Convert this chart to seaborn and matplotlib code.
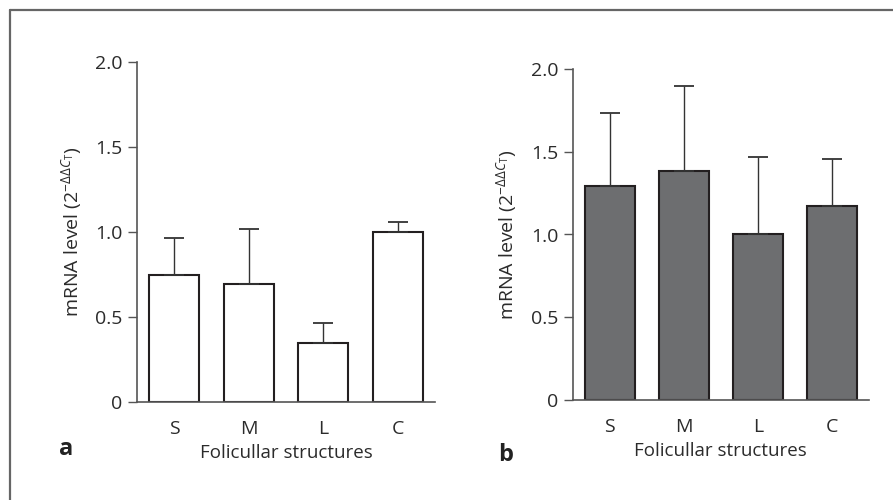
import numpy as np
import pandas as pd
import matplotlib
matplotlib.use('Agg')
from matplotlib import pyplot as plt
from matplotlib.lines import Line2D
import seaborn as sns

# data
structures = ['S', 'M', 'L', 'C']
level_a = [0.745, 0.696, 0.349, 1.0]
err_a = [0.222, 0.322, 0.114, 0.057]
level_b = [1.295, 1.384, 1.0, 1.174]
err_b = [0.441, 0.511, 0.47, 0.284]
yticks = [0, 0.5, 1.0, 1.5, 2.0]
yticklabels = ['0', '0.5', '1.0', '1.5', '2.0']

sns.set_style('ticks')
plt.rcParams['font.family'] = ['Open Sans', 'DejaVu Sans']
plt.rcParams['mathtext.fontset'] = 'custom'
plt.rcParams['mathtext.rm'] = 'Open Sans'
plt.rcParams['mathtext.it'] = 'Open Sans:italic'
txt = '#2b2b2b'

fig = plt.figure(figsize=(8.93, 5), dpi=100)
ax_a = fig.add_axes([0.1534, 0.196, 0.3337, 0.68])
ax_b = fig.add_axes([0.6413, 0.2, 0.3318, 0.662])

panels = [(ax_a, level_a, err_a, 'white'),
          (ax_b, level_b, err_b, '#6d6e70')]

for ax, vals, errs, col in panels:
    df = pd.DataFrame({'structure': structures, 'level': vals})
    sns.barplot(data=df, x='structure', y='level', ax=ax, color=col,
                width=0.67, edgecolor='#231f20', linewidth=1.5,
                saturation=1, errorbar=None)
    # one-sided (upper) error bars
    ax.errorbar(np.arange(len(vals)), vals, yerr=[np.zeros(len(vals)), errs],
                fmt='none', ecolor='#333333', elinewidth=1.0, capsize=7.5,
                capthick=1.3, zorder=3)
    ax.set_xlim(-0.5, 3.5)
    ax.set_ylim(0, 2.0)
    ax.set_yticks(yticks)
    ax.set_yticklabels(yticklabels)
    ax.tick_params(axis='y', length=6.5, width=1, colors='#555555',
                   labelcolor=txt, labelsize=14, pad=4)
    ax.tick_params(axis='x', length=0, labelcolor=txt, labelsize=14, pad=13)
    for s in ['top', 'right']:
        ax.spines[s].set_visible(False)
    for s in ['left', 'bottom']:
        ax.spines[s].set_color('#555555')
        ax.spines[s].set_linewidth(1.2)
    ax.set_ylabel(r'mRNA level (2$^{-\Delta\Delta C_{\mathrm{T}}}$)',
                  fontsize=14, color=txt, labelpad=8)
    ax.set_xlabel('Folicullar structures', fontsize=13.5, color=txt, labelpad=4)

fig.text(66 / 893, 1 - 449 / 500, 'a', fontsize=17, fontweight='bold',
         color='#222222', ha='center', va='center')
fig.text(506 / 893, 1 - 455 / 500, 'b', fontsize=17, fontweight='bold',
         color='#222222', ha='center', va='center')

# outer frame (cropped)
fx, fy = 10 / 893, 1 - 10 / 500
fig.add_artist(Line2D([fx, fx], [-0.01, fy], color='#666666', lw=1.6))
fig.add_artist(Line2D([fx, 1.01], [fy, fy], color='#666666', lw=1.6))

fig.savefig('out.png', dpi=100)
